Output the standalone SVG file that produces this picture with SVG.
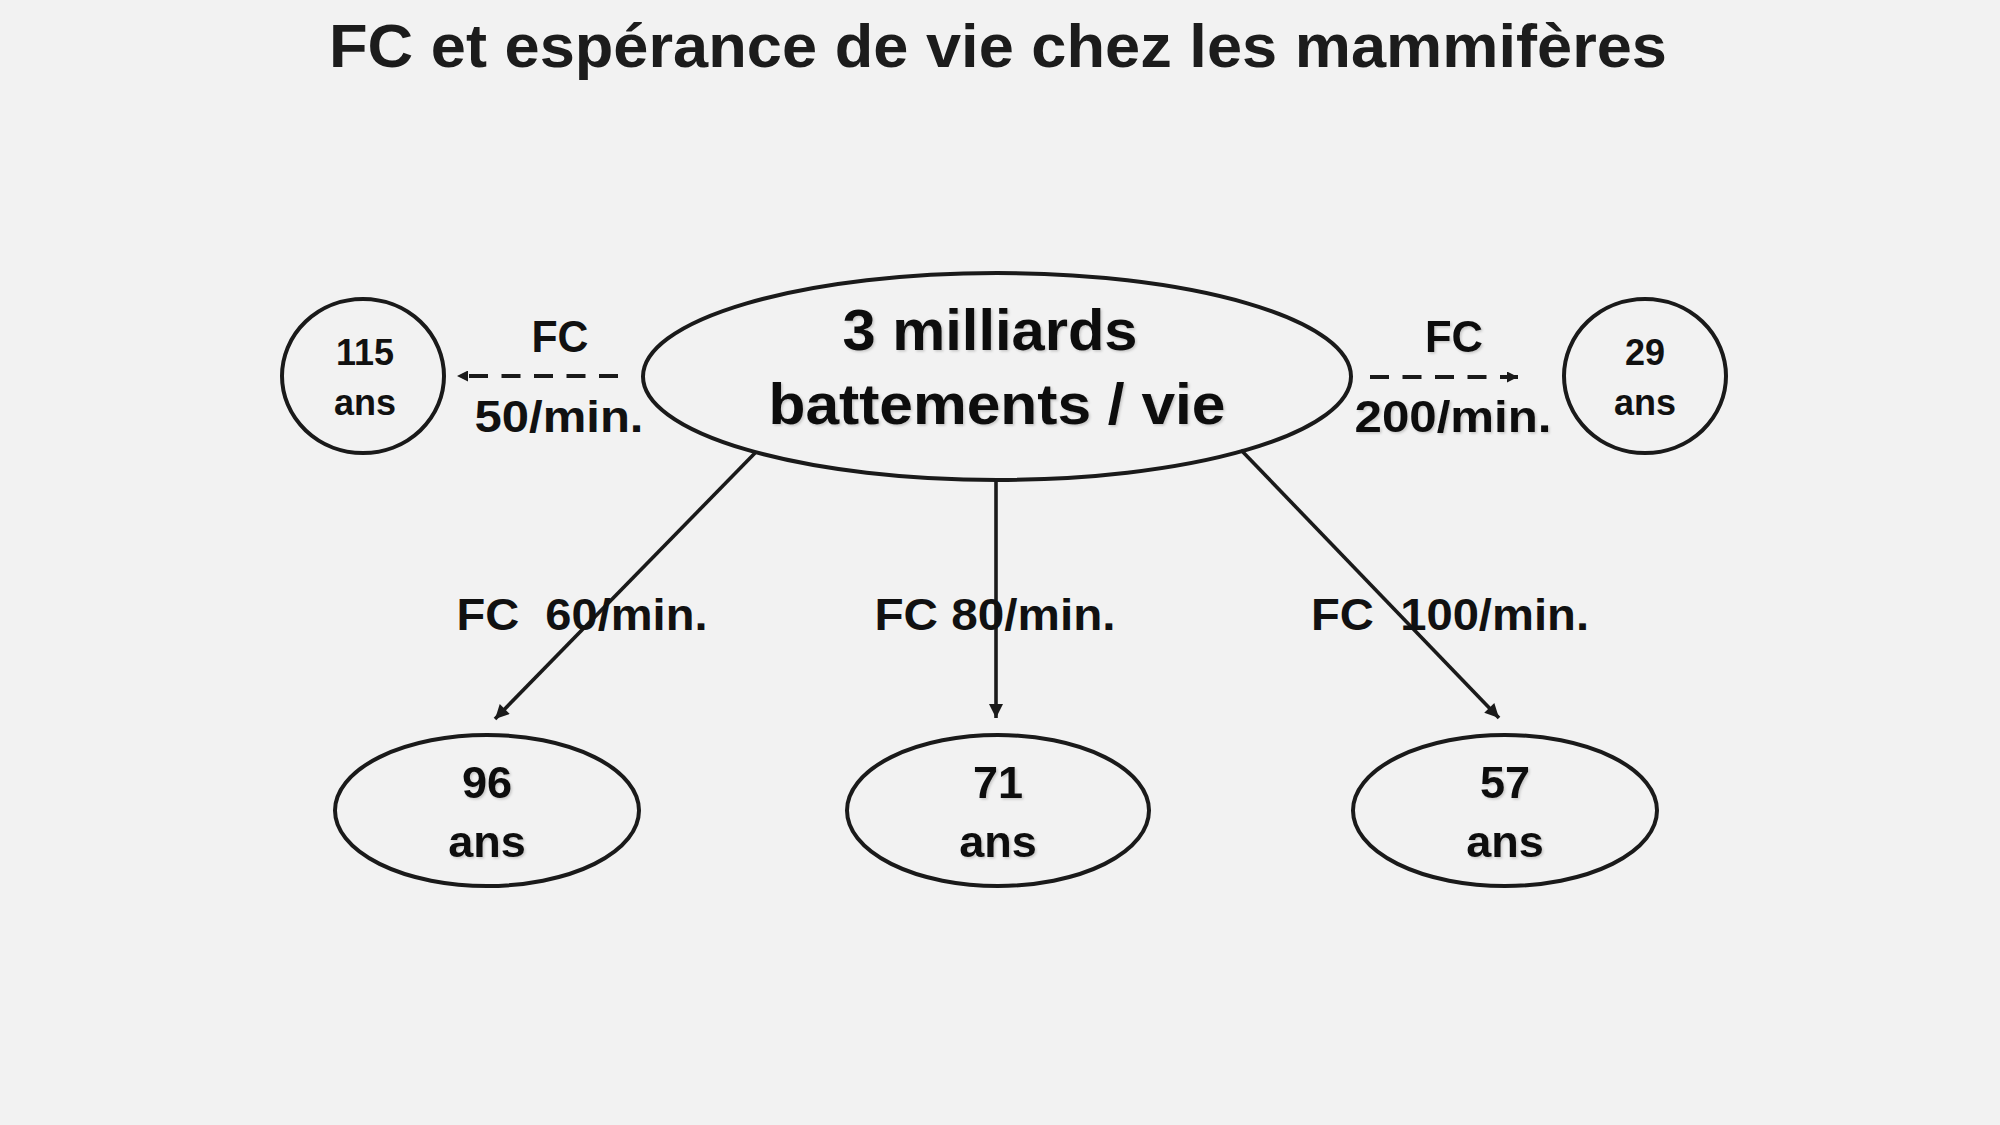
<svg xmlns="http://www.w3.org/2000/svg" width="2000" height="1125" viewBox="0 0 2000 1125">
  <defs>
    <style>
      text { font-family: "Liberation Sans", Arial, sans-serif; font-weight: bold; fill: #111; text-anchor: middle; }
      .title { font-size: 62px; fill: #1c1c1c; }
      .node { fill: none; stroke: #1a1a1a; stroke-width: 4; }
      .conn { stroke: #1a1a1a; stroke-width: 3.6; fill: none; }
      .dash { stroke: #1a1a1a; stroke-width: 4; fill: none; stroke-dasharray: 19 13.5; }
      .lbl { font-size: 44px; }
      .big { font-size: 58px; }
      .small { font-size: 36px; }
      .mid { font-size: 45px; }
      .sh { filter: url(#shadow); }
    </style>
    <filter id="shadow" x="-10%" y="-30%" width="120%" height="160%">
      <feDropShadow dx="1.5" dy="1.5" stdDeviation="1" flood-color="#000" flood-opacity="0.18"/>
    </filter>
    <marker id="arr" viewBox="0 0 10 10" refX="10" refY="5" markerWidth="17" markerHeight="14" markerUnits="userSpaceOnUse" orient="auto">
      <path d="M0,0 L10,5 L0,10 z" fill="#1a1a1a"/>
    </marker>
    <marker id="arrs" viewBox="0 0 10 10" refX="10" refY="5" markerWidth="15" markerHeight="11" markerUnits="userSpaceOnUse" orient="auto">
      <path d="M0,0 L10,5 L0,10 z" fill="#1a1a1a"/>
    </marker>
  </defs>
  <rect x="0" y="0" width="2000" height="1125" fill="#f2f2f2"/>

  <text class="title" x="998" y="67" textLength="1338" lengthAdjust="spacingAndGlyphs">FC et espérance de vie chez les mammifères</text>

  <g id="connectors">
    <line class="conn" x1="755" y1="453" x2="495" y2="719" marker-end="url(#arr)"/>
    <line class="conn" x1="996" y1="480" x2="996" y2="718" marker-end="url(#arr)"/>
    <line class="conn" x1="1241" y1="450" x2="1499" y2="718" marker-end="url(#arr)"/>
    <line class="dash" x1="618" y1="376" x2="457" y2="376" marker-end="url(#arrs)"/>
    <line class="dash" x1="1370" y1="377" x2="1518" y2="377" marker-end="url(#arrs)"/>
    <text class="lbl" x="560" y="352" textLength="57" lengthAdjust="spacingAndGlyphs">FC</text>
    <text class="lbl" x="559" y="432" textLength="169" lengthAdjust="spacingAndGlyphs">50/min.</text>
    <text class="lbl sh" x="1454" y="352" textLength="58" lengthAdjust="spacingAndGlyphs">FC</text>
    <text class="lbl sh" x="1453" y="432" textLength="197" lengthAdjust="spacingAndGlyphs">200/min.</text>
    <text class="lbl" x="582" y="630" textLength="251" lengthAdjust="spacingAndGlyphs" xml:space="preserve">FC  60/min.</text>
    <text class="lbl" x="995" y="630" textLength="241" lengthAdjust="spacingAndGlyphs">FC 80/min.</text>
    <text class="lbl" x="1450" y="630" textLength="278" lengthAdjust="spacingAndGlyphs" xml:space="preserve">FC  100/min.</text>
  </g>

  <g id="node-center">
    <ellipse class="node" cx="997" cy="376.5" rx="354" ry="103.5"/>
    <text class="big sh" x="990" y="350" textLength="295" lengthAdjust="spacingAndGlyphs">3 milliards</text>
    <text class="big sh" x="997" y="424" textLength="457" lengthAdjust="spacingAndGlyphs">battements / vie</text>
  </g>

  <g id="node-115">
    <ellipse class="node" cx="363" cy="376" rx="81" ry="77"/>
    <text class="small" x="365" y="365">115</text>
    <text class="small" x="365" y="415">ans</text>
  </g>

  <g id="node-29">
    <ellipse class="node" cx="1645" cy="376" rx="81" ry="77"/>
    <text class="small" x="1645" y="365">29</text>
    <text class="small" x="1645" y="415">ans</text>
  </g>

  <g id="node-96">
    <ellipse class="node" cx="487" cy="810.5" rx="152" ry="75.5"/>
    <text class="mid sh" x="487" y="798">96</text>
    <text class="mid sh" x="487" y="857">ans</text>
  </g>

  <g id="node-71">
    <ellipse class="node" cx="998" cy="810.5" rx="151" ry="75.5"/>
    <text class="mid sh" x="998" y="798">71</text>
    <text class="mid sh" x="998" y="857">ans</text>
  </g>

  <g id="node-57">
    <ellipse class="node" cx="1505" cy="810.5" rx="152" ry="75.5"/>
    <text class="mid sh" x="1505" y="798">57</text>
    <text class="mid sh" x="1505" y="857">ans</text>
  </g>
</svg>
